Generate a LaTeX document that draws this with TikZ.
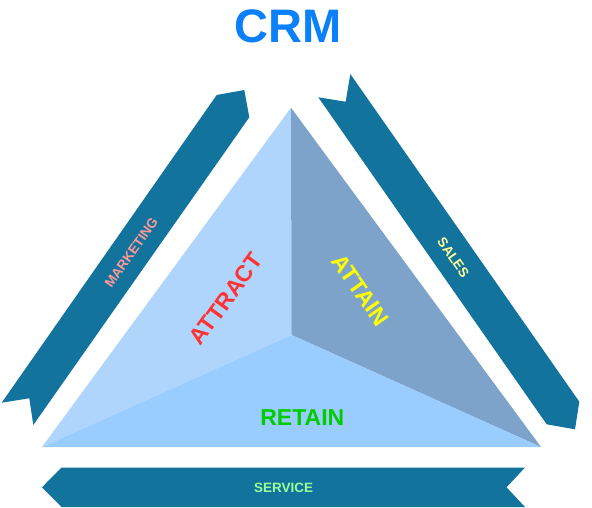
\documentclass[tikz,border=0pt]{standalone}
\usepackage{fontspec}
\setmainfont{Liberation Sans}
\definecolor{band}{RGB}{18,115,157}
\definecolor{faceL}{RGB}{176,213,252}
\definecolor{faceR}{RGB}{125,163,203}
\definecolor{faceB}{RGB}{153,204,255}
\definecolor{crmblue}{RGB}{10,128,250}
\definecolor{attractred}{RGB}{255,51,51}
\definecolor{attainyellow}{RGB}{255,255,0}
\definecolor{retaingreen}{RGB}{0,204,0}
\definecolor{mkpink}{RGB}{255,153,153}
\definecolor{salesyellow}{RGB}{255,255,153}
\definecolor{servgreen}{RGB}{153,255,153}
\tikzset{
  bandshape/.style={fill=band, draw=none},
  lbl/.style={inner sep=0pt, font=\bfseries},
}
\begin{document}
\begin{tikzpicture}[x=1pt,y=-1pt]
\useasboundingbox (0,0) rectangle (592,508);
% pyramid faces
\coordinate (apex) at (291,107.7);
\coordinate (bl) at (42,447);
\coordinate (br) at (541,447);
\coordinate (mid) at (291.5,335);
\fill[faceL] (apex) -- (mid) -- (bl) -- cycle;
\fill[faceR] (apex) -- (br) -- (mid) -- cycle;
\fill[faceB] (bl) -- (mid) -- (br) -- cycle;
% marketing chevron
\fill[bandshape] (1.7,402.7) -- (216.7,95) -- (244.3,90) -- (249.3,117.3) -- (33.3,425) -- (29.3,398.3) -- cycle;
% sales chevron
\fill[bandshape] (318.3,97.3) -- (345.7,101.7) -- (350.3,74) -- (579.3,401.7) -- (575,429.3) -- (546.7,424.3) -- cycle;
% service chevron
\fill[bandshape] (42,487.3) -- (61.5,467.5) -- (525,467.5) -- (506.5,487.3) -- (525,507) -- (61.5,507) -- cycle;
% texts
\node[lbl, text=crmblue, font=\bfseries\fontsize{47}{50}\selectfont] (crm) at (288.3,26.8) {CRM};
\node[lbl, text=attractred, rotate=54, font=\bfseries\fontsize{23}{26}\selectfont] (attract) at (226,299) {ATTRACT};
\node[lbl, text=attainyellow, rotate=-55, font=\bfseries\fontsize{23}{26}\selectfont] (attain) at (360.5,290) {ATTAIN};
\node[lbl, text=retaingreen, font=\bfseries\fontsize{23}{26}\selectfont] (retain) at (302.3,417.5) {RETAIN};
\node[lbl, text=mkpink, rotate=55, font=\bfseries\fontsize{13.5}{15}\selectfont] (marketing) at (131.3,252.5) {MARKETING};
\node[lbl, text=salesyellow, rotate=-55, font=\bfseries\fontsize{13.5}{15}\selectfont] (sales) at (453.3,257.5) {SALES};
\node[lbl, text=servgreen, font=\bfseries\fontsize{13.5}{15}\selectfont] (service) at (283.7,488) {SERVICE};
\end{tikzpicture}
\end{document}
